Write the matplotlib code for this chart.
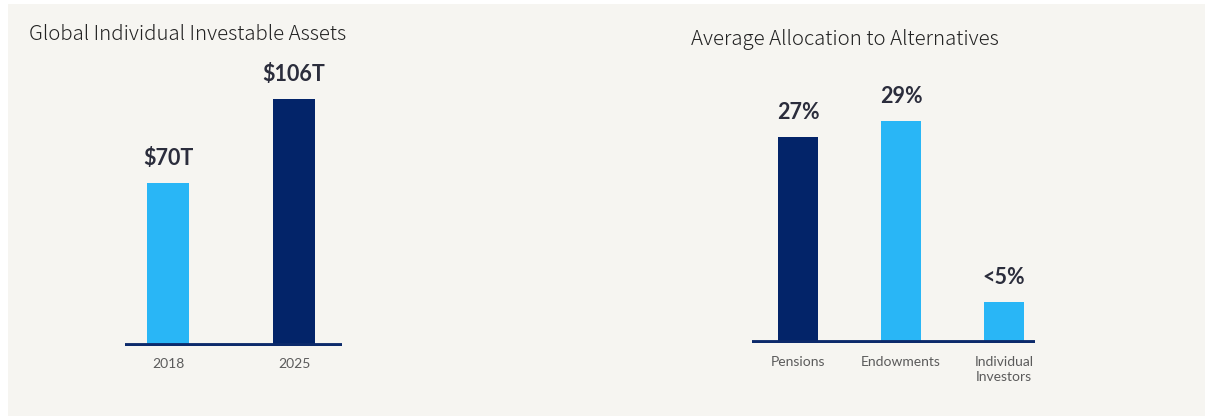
import matplotlib
matplotlib.use("Agg")
import matplotlib.pyplot as plt
from matplotlib.patches import Rectangle

# ---- data ----
left_title = "Global Individual Investable Assets"
left_cats = ["2018", "2025"]
left_values = [70, 106]
left_labels = ["$70T", "$106T"]

right_title = "Average Allocation to Alternatives"
right_cats = ["Pensions", "Endowments", "Individual\nInvestors"]
right_values = [27, 29, 5.4]
right_labels = ["27%", "29%", "<5%"]

LIGHT = "#29b6f6"
NAVY = "#032469"
left_colors = [LIGHT, NAVY]
right_colors = [NAVY, LIGHT, LIGHT]

W, H = 1206, 418
DPI = 100
fig = plt.figure(figsize=(W / DPI, H / DPI), dpi=DPI, facecolor="white")

# panel background
fig.patches.append(Rectangle((8 / W, 2 / H), (1197 / W), (412 / H),
                             transform=fig.transFigure, facecolor="#f6f5f1",
                             edgecolor="none", zorder=-10))

VAL_FONT = ["Lato", "DejaVu Sans"]
TITLE_FONT = ["Noto Sans CJK JP", "DejaVu Sans"]


def px_axes(x0, x1, ybot, ytop):
    # pixel coordinates from top-left
    return fig.add_axes([x0 / W, (H - ybot) / H, (x1 - x0) / W, (ybot - ytop) / H])


def draw(ax, cats, vals, labels, colors, width, xlim, ylim):
    ax.set_facecolor("none")
    ax.set_zorder(1)
    x = list(range(len(cats)))
    ax.bar(x, vals, width=width, color=colors, zorder=2)
    ax.set_xlim(*xlim)
    ax.set_ylim(*ylim)
    ax.axhline(0, color="#0c2a6b", lw=4.2, zorder=3, solid_capstyle="butt")
    for xi, v, lab in zip(x, vals, labels):
        ax.annotate(lab, (xi, v), xytext=(0, 13), textcoords="offset points",
                    ha="center", va="baseline", fontsize=15.5, fontweight="bold",
                    color="#2b2d3c", family=VAL_FONT)
    ax.set_xticks(x)
    ax.set_xticklabels(cats, fontsize=10, color="#5b5b5b", family=VAL_FONT,
                       linespacing=1.35)
    ax.tick_params(axis="x", length=0, pad=9)
    ax.set_yticks([])
    for s in ax.spines.values():
        s.set_visible(False)


# left chart: baseline centre at y=346 px, 2.33 px per unit
axL = px_axes(125, 342, 346, 40)
draw(axL, left_cats, left_values, left_labels, left_colors, 0.333,
     (-0.341, 1.381), (0, 306 / 2.33))

# right chart: baseline centre at y=343 px, 7.64 px per unit
axR = px_axes(752, 1035, 343, 40)
draw(axR, right_cats, right_values, right_labels, right_colors, 0.39,
     (-0.447, 2.30), (0, 303 / 7.64))

fig.text(29 / W, 1 - 35 / H, left_title, ha="left", va="center", fontsize=14.7,
         color="#222222", family=TITLE_FONT, fontweight="light")
fig.text(691 / W, 1 - 39 / H, right_title, ha="left", va="center", fontsize=14.7,
         color="#222222", family=TITLE_FONT, fontweight="light")

fig.savefig("out.png", dpi=DPI, facecolor="white")
